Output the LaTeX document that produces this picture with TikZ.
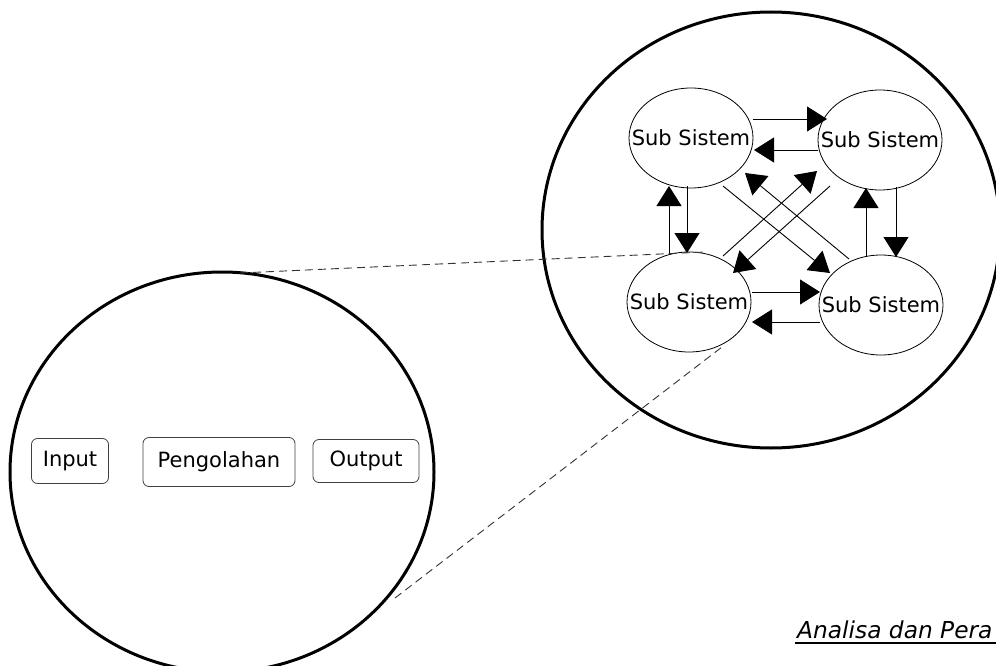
\documentclass[tikz,border=0pt]{standalone}
\usepackage{fontspec}
\setmainfont{DejaVu Sans}
\usetikzlibrary{shapes.geometric,arrows.meta,calc}
\begin{document}
\begin{tikzpicture}[x=1pt,y=-1pt,
  sub/.style={ellipse,draw,line width=0.8pt,minimum width=124pt,minimum height=100pt,inner sep=0pt,font=\fontsize{21}{24}\selectfont},
  big/.style={ellipse,draw,line width=3pt,inner sep=0pt},
  box/.style={rectangle,rounded corners=6pt,draw=black!75,line width=0.8pt,inner sep=0pt,font=\fontsize{21}{24}\selectfont},
  arr/.style={-{Triangle[length=20pt,width=25pt]},line width=0.9pt},
  guide/.style={dash pattern=on 8pt off 5pt,line width=0.9pt,draw=black!80}]
\useasboundingbox (0,0) rectangle (996,666);
% big circles
\node[big,minimum width=424pt,minimum height=400pt] (lc) at (222,472) {};
\node[big,minimum width=458pt,minimum height=436pt] (rc) at (771,230) {};
% boxes
\node[box,minimum width=77pt,minimum height=45pt] (in) at (70,461) {Input};
\node[box,minimum width=152pt,minimum height=49pt] (pg) at (219,462) {Pengolahan};
\node[box,minimum width=106pt,minimum height=43pt] (out) at (366,461) {Output};
% sub systems
\node[sub] (tl) at (691,138) {\makebox[0pt][c]{Sub Sistem}};
\node[sub] (tr) at (880,140) {\makebox[0pt][c]{Sub Sistem}};
\node[sub] (bl) at (689,302) {\makebox[0pt][c]{Sub Sistem}};
\node[sub] (br) at (881,305) {\makebox[0pt][c]{Sub Sistem}};
% arrows
\draw[arr] ($(tl)+(62,-19)$) -- ($(tr)+(-53,-21)$);
\draw[arr] ($(tr)+(-62,10)$) -- ($(tl)+(63,12)$);
\draw[arr] ($(tl)+(-4,48)$) -- ($(bl)+(-2,-49)$);
\draw[arr] ($(bl)+(-20,-49)$) -- ($(tl)+(-22,48)$);
\draw[arr] ($(tr)+(16,47)$) -- ($(br)+(15,-48)$);
\draw[arr] ($(br)+(-15,-49)$) -- ($(tr)+(-14,48)$);
\draw[arr] ($(bl)+(63,-10)$) -- ($(br)+(-61,-13)$);
\draw[arr] ($(br)+(-61,17)$) -- ($(bl)+(63,20)$);
\draw[arr] ($(tl)+(32,48)$) -- ($(br)+(-51,-32)$);
\draw[arr] ($(br)+(-32,-46)$) -- ($(tl)+(54,35)$);
\draw[arr] ($(bl)+(34,-46)$) -- ($(tr)+(-63,31)$);
\draw[arr] ($(tr)+(-50,46)$) -- ($(bl)+(44,-29)$);
% zoom guides
\draw[guide] ($(lc)+(18,-199)$) -- ($(bl)+(16,-50)$);
\draw[guide] ($(lc)+(173,126)$) -- ($(bl)+(33,45)$);
% title
\node[anchor=base west,inner sep=0pt,font=\fontsize{23.3}{27}\selectfont\itshape] (title) at (797,638) {Analisa dan Pera};
\draw[line width=2pt] ($(title.base west)+(-2,5)$) -- ($(title.base east)+(4,5)$);
\end{tikzpicture}
\end{document}
